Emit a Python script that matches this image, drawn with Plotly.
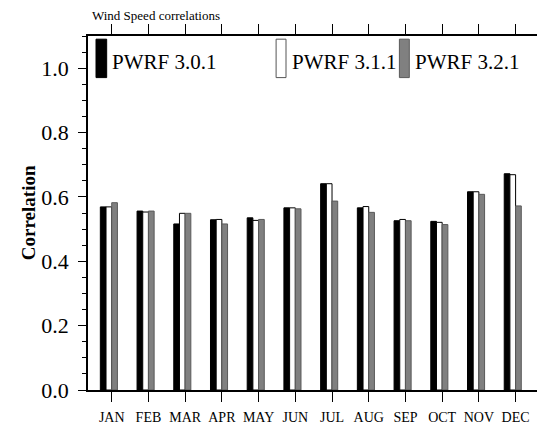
import plotly.graph_objects as go

months = ["JAN", "FEB", "MAR", "APR", "MAY", "JUN", "JUL", "AUG", "SEP", "OCT", "NOV", "DEC"]
pwrf_301 = [0.569, 0.556, 0.516, 0.529, 0.535, 0.566, 0.641, 0.566, 0.526, 0.524, 0.616, 0.672]
pwrf_311 = [0.569, 0.553, 0.549, 0.530, 0.527, 0.566, 0.641, 0.570, 0.530, 0.521, 0.616, 0.669]
pwrf_321 = [0.582, 0.556, 0.549, 0.516, 0.530, 0.563, 0.587, 0.552, 0.526, 0.514, 0.608, 0.572]
series_names = ["PWRF 3.0.1", "PWRF 3.1.1", "PWRF 3.2.1"]
y_ticks = [0.0, 0.2, 0.4, 0.6, 0.8, 1.0]

xpos = list(range(1, len(months) + 1))
W = 0.155
FONT = "Liberation Serif, Times New Roman, serif"

fig = go.Figure()
styles = [
    (pwrf_301, "black", "black", -2 * W),
    (pwrf_311, "white", "black", -W),
    (pwrf_321, "#808080", "#5a5a5a", 0.0),
]
for (vals, fill, line, off), name in zip(styles, series_names):
    fig.add_trace(go.Bar(
        x=xpos, y=vals, name=name, width=W, offset=off,
        marker=dict(color=fill, line=dict(color=line, width=1)),
        showlegend=False,
    ))

# legend drawn manually (tall boxes)
leg = [(0.0178, 0.0415, "black", "black", 0.049, series_names[0]),
       (0.418, 0.440, "white", "#555555", 0.448, series_names[1]),
       (0.692, 0.714, "#808080", "#5a5a5a", 0.722, series_names[2])]
for x0, x1, fc, lc, tx, txt in leg:
    fig.add_shape(type="rect", xref="paper", yref="paper", x0=x0, x1=x1,
                  y0=0.8825, y1=0.991, fillcolor=fc, line=dict(color=lc, width=1))
    fig.add_annotation(xref="paper", yref="paper", x=tx, y=0.927, text=txt,
                       showarrow=False, xanchor="left", yanchor="middle",
                       font=dict(family=FONT, size=21, color="black"))

fig.add_annotation(xref="paper", yref="paper", x=0.004, y=1.058,
                   text="Wind Speed correlations", showarrow=False,
                   xanchor="left", yanchor="middle",
                   font=dict(family=FONT, size=13, color="black"))
fig.add_annotation(xref="paper", yref="paper", x=-0.133, y=0.5,
                   text="<b>Correlation</b>", showarrow=False, textangle=-90,
                   xanchor="center", yanchor="middle",
                   font=dict(family=FONT, size=19, color="black"))

# page body has an 8px default margin, so the figure is sized to fit the 545x425 window
fig.update_layout(
    template="none",
    width=537, height=417,
    margin=dict(l=80, r=7, t=28, b=35),
    paper_bgcolor="white", plot_bgcolor="white",
    barmode="overlay",
    xaxis=dict(
        range=[0.354, 12.61], tickvals=xpos, ticktext=months,
        showline=True, linecolor="black", linewidth=1.5, mirror="allticks",
        ticks="outside", ticklen=10, tickwidth=1.2, tickcolor="black",
        showgrid=False, zeroline=False, automargin=False,
        tickfont=dict(family=FONT, size=14, color="black"),
        ticklabelstandoff=3,
    ),
    yaxis=dict(
        range=[0, 1.1], tickvals=y_ticks, ticktext=[f"{v:.1f}" for v in y_ticks],
        showline=True, linecolor="black", linewidth=1.5, mirror="allticks",
        ticks="outside", ticklen=8, tickwidth=1.2, tickcolor="black",
        minor=dict(dtick=0.05, tick0=0, ticks="outside", ticklen=4,
                   tickwidth=1, tickcolor="black", showgrid=False),
        showgrid=False, zeroline=False, automargin=False,
        tickfont=dict(family=FONT, size=22, color="black"),
        ticklabelstandoff=5,
    ),
)

fig.write_html("out.html")
